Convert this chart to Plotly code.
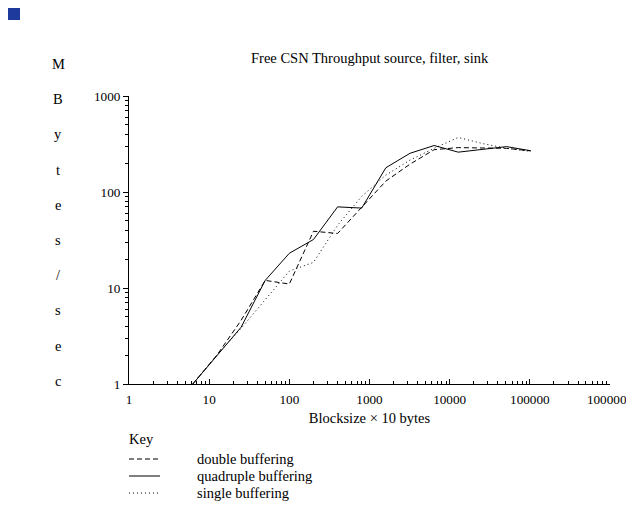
import plotly.graph_objects as go

# ---- data ----
blocksize = [6.25, 12.5, 25, 50, 100, 200, 400, 800, 1600, 3200, 6400, 12800, 25600, 51200, 102400]
double_buf = [1.0, 2.0, 4.6, 12, 11, 39, 37, 69, 130, 195, 276, 290, 288, 285, 268]
quad_buf = [1.0, 2.0, 3.9, 12, 23, 32, 70, 68, 179, 253, 305, 260, 278, 297, 269]
single_buf = [1.0, 2.0, 3.8, 7.5, 15, 18.5, 45, 90, 150, 215, 285, 370, 320, 285, 265]
series_names = ["double buffering", "quadruple buffering", "single buffering"]
series_dash = ["5px,3px", "solid", "1px,3px"]

x_tick_vals = [1, 10, 100, 1000, 10000, 100000, 1000000]
x_tick_text = ["1", "10", "100", "1000", "10000", "100000", "1000000"]
y_tick_vals = [1, 10, 100, 1000]
y_tick_text = ["1", "10", "100", "1000"]
ylabel_letters = list("MBytes/sec")
title_text = "Free CSN Throughput source, filter, sink"
xlabel_text = "Blocksize \u00d7 10 bytes"

# ---- layout geometry (page pixels; the page body adds an 8px margin) ----
W, H = 634, 506
OFF = 8
PLOT_X0, PLOT_X1 = 129, 610     # page x of the plot area
PLOT_Y0, PLOT_Y1 = 96, 384      # page y of the plot area
L = PLOT_X0 - OFF
R = W - (PLOT_X1 - OFF)
T = PLOT_Y0 - OFF
B = H - (PLOT_Y1 - OFF)
PW, PH = W - L - R, H - T - B
FONT = "Liberation Serif"
FS = 14.5
TICK_FS = 13.2


def px_x(px):
    return (px - OFF - L) / PW


def px_y(py):
    return (H - B - (py - OFF)) / PH


fig = go.Figure()
for name, ys, dash in zip(series_names, [double_buf, quad_buf, single_buf], series_dash):
    fig.add_trace(go.Scatter(x=blocksize, y=ys, mode="lines", name=name,
                             line=dict(color="black", width=1, dash=dash),
                             showlegend=False))

annotations = []
annotations.append(dict(text=title_text, x=px_x(369.5), y=px_y(58), xref="paper", yref="paper",
                        showarrow=False, xanchor="center", yanchor="middle",
                        font=dict(family=FONT, size=FS, color="black")))
for i, ch in enumerate(ylabel_letters):
    annotations.append(dict(text=ch, x=px_x(58), y=px_y(64 + i * 35.2), xref="paper", yref="paper",
                            showarrow=False, xanchor="center", yanchor="middle",
                            font=dict(family=FONT, size=FS, color="black")))
annotations.append(dict(text="Key", x=px_x(129), y=px_y(439), xref="paper", yref="paper",
                        showarrow=False, xanchor="left", yanchor="middle", xshift=-2,
                        font=dict(family=FONT, size=FS, color="black")))
shapes = []
key_rows = [459, 476, 493]
for name, dash, ky in zip(series_names, series_dash, key_rows):
    annotations.append(dict(text=name, x=px_x(197), y=px_y(ky), xref="paper", yref="paper",
                            showarrow=False, xanchor="left", yanchor="middle", xshift=-2,
                            font=dict(family=FONT, size=FS, color="black")))
    shapes.append(dict(type="line", xref="paper", yref="paper",
                       x0=px_x(129), x1=px_x(160), y0=px_y(ky), y1=px_y(ky),
                       line=dict(color="black", width=1, dash=dash)))
shapes.append(dict(type="rect", xref="paper", yref="paper",
                   x0=px_x(8), x1=px_x(20), y0=px_y(8), y1=px_y(20),
                   fillcolor="#1d3a9c", line=dict(width=0)))

fig.update_layout(
    width=W, height=H,
    margin=dict(l=L, r=R, t=T, b=B, autoexpand=False),
    paper_bgcolor="white", plot_bgcolor="white",
    font=dict(family=FONT, size=FS, color="black"),
    annotations=annotations, shapes=shapes,
    showlegend=False,
)
fig.update_xaxes(type="log", range=[0, 6], tickvals=x_tick_vals, ticktext=x_tick_text,
                 showline=True, linecolor="black", linewidth=1,
                 ticks="inside", ticklen=5, tickcolor="black", tickwidth=1,
                 minor=dict(ticks="inside", ticklen=3, tickcolor="black", dtick="D1", showgrid=False),
                 showgrid=False, zeroline=False, ticklabelstandoff=3,
                 tickfont=dict(family=FONT, size=TICK_FS),
                 title=dict(text=xlabel_text, font=dict(family=FONT, size=FS), standoff=7))
fig.update_yaxes(type="log", range=[0, 3], tickvals=y_tick_vals, ticktext=y_tick_text,
                 showline=True, linecolor="black", linewidth=1,
                 ticks="outside", ticklen=5, tickcolor="black", tickwidth=1,
                 minor=dict(ticks="outside", ticklen=3, tickcolor="black", dtick="D1", showgrid=False),
                 showgrid=False, zeroline=False,
                 tickfont=dict(family=FONT, size=TICK_FS))

fig.write_html("out.html")
